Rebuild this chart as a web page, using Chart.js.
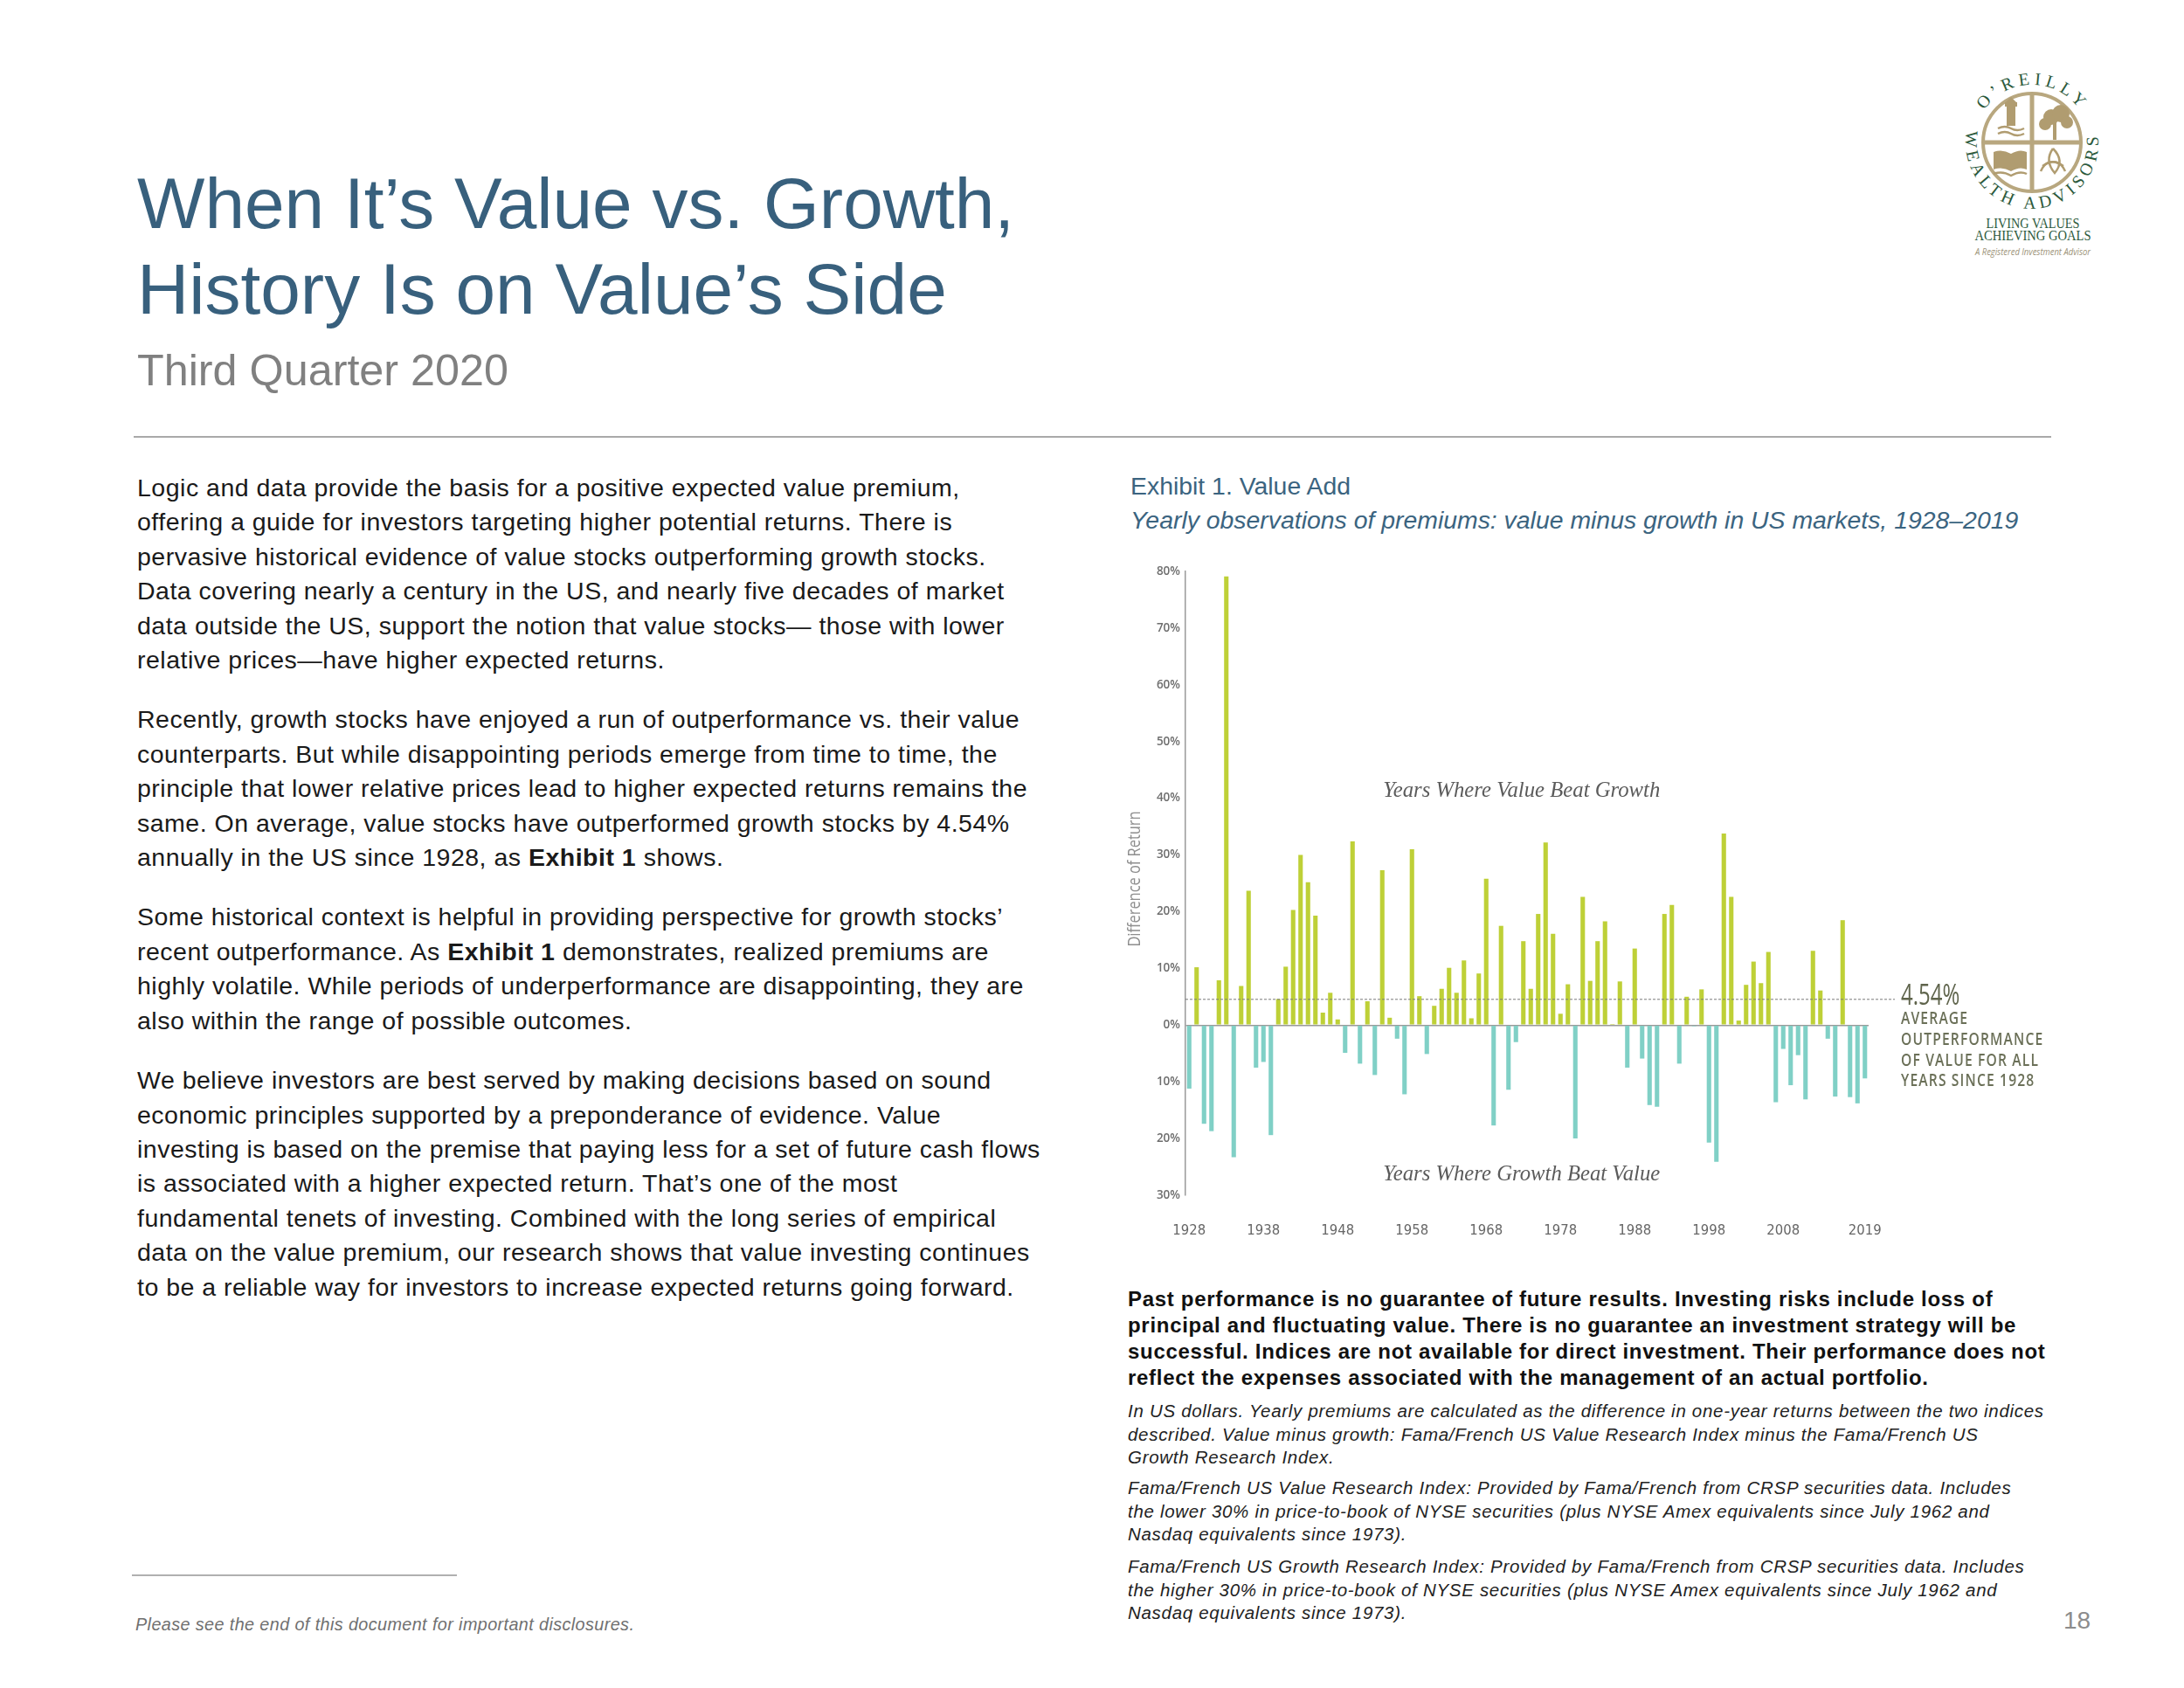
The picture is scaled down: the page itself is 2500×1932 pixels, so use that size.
<!DOCTYPE html>
<html>
<head>
<meta charset="utf-8">
<script src="https://cdn.jsdelivr.net/npm/chart.js@4.4.1/dist/chart.umd.min.js"></script>
<style>
  body { margin: 0; width: 2500px; height: 1932px; background: #fff; position: relative; overflow: hidden;
         font-family: "Liberation Sans", Arial, sans-serif; }
  .abs { position: absolute; white-space: nowrap; }
  .title { left: 157px; top: 183.6px; font-size: 82px; line-height: 98px; color: #38607d; }
  .sub { left: 157px; top: 398.6px; font-size: 50.3px; line-height: 50px; color: #808080; }
  .rule { left: 153px; top: 499px; width: 2195px; height: 2px; background: #a9a9a9; }
  .body { left: 157px; top: 539px; font-size: 28.5px; line-height: 39.4px; letter-spacing: 0.5px; color: #1a1a1a; }
  .body p { margin: 0 0 29px 0; }
  .exh { left: 1294px; top: 539px; font-size: 28.4px; line-height: 34px; color: #3b6480; }
  .exh2 { left: 1294px; top: 578px; font-size: 28.4px; line-height: 34px; color: #3b6480; font-style: italic; }
  .disc { left: 1291px; top: 1472px; font-size: 24px; line-height: 30px; letter-spacing: 0.7px; font-weight: bold; color: #111; }
  .note { left: 1291px; font-size: 20.5px; line-height: 26.7px; letter-spacing: 0.7px; font-style: italic; color: #222; }
  .frule { left: 151px; top: 1802px; width: 372px; height: 2px; background: #b0b0b0; }
  .foot { left: 155px; top: 1847px; font-size: 19.8px; line-height: 24px; letter-spacing: 0.4px; font-style: italic; color: #707070; }
  .pnum { left: 2362px; top: 1840px; font-size: 28px; line-height: 30px; color: #8c8c8c; }
  #chartBox { position: absolute; left: 1270px; top: 620px; }
</style>
</head>
<body>

<div class="abs title">When It’s Value vs. Growth,<br>History Is on Value’s Side</div>
<div class="abs sub">Third Quarter 2020</div>
<div class="abs rule"></div>

<svg class="abs" style="left:2240px;top:70px" width="230" height="260" viewBox="0 0 230 260">
  <defs>
    <path id="arcTop" d="M 31.3 56.1 A 66 66 0 0 1 140.1 55.1"/>
    <path id="arcBottom" d="M 11.15 79.8 A 76 76 0 1 0 161.3 82.4"/>
  </defs>
  <g fill="none" stroke="#b8a77f">
    <circle cx="86" cy="93" r="56" stroke-width="4"/>
    <line x1="86" y1="37" x2="86" y2="149" stroke-width="5"/>
    <line x1="30" y1="93" x2="142" y2="93" stroke-width="5"/>
  </g>
  <g fill="#b09c70" stroke="none">
    <rect x="57" y="52" width="10" height="22"/>
    <rect x="55" y="47" width="14" height="5"/>
    <polygon points="56,47 62,41 68,47"/>
    <circle cx="108" cy="64" r="9"/>
    <circle cx="119" cy="60" r="10"/>
    <circle cx="126" cy="70" r="7"/>
    <circle cx="101" cy="72" r="7"/>
    <rect x="110" y="70" width="4" height="20"/>
    <path d="M 42 104 Q 52 100 62 106 Q 72 100 80 104 L 80 124 Q 72 120 62 126 Q 52 120 42 124 Z"/>
  </g>
  <g fill="none" stroke="#b09c70" stroke-width="2.5">
    <path d="M 47 77 Q 55 73 62 77 Q 69 81 77 77"/>
    <path d="M 47 83 Q 55 79 62 83 Q 69 87 77 83"/>
    <path d="M 42 129 Q 52 125 62 131 Q 72 125 80 129"/>
    <path d="M 110 100 Q 124 114 112 128 Q 100 114 110 100"/>
    <path d="M 96 126 Q 104 108 122 120"/>
    <path d="M 124 126 Q 116 108 98 120"/>
  </g>
  <g fill="#2c5a3c" font-family="Liberation Serif, serif">
    <text font-size="20"><textPath href="#arcTop" textLength="126" lengthAdjust="spacing">O’REILLY</textPath></text>
    <text font-size="20"><textPath href="#arcBottom" textLength="258" lengthAdjust="spacing">WEALTH ADVISORS</textPath></text>
    <text x="87" y="191" font-size="17" text-anchor="middle" textLength="107" lengthAdjust="spacingAndGlyphs">LIVING VALUES</text>
    <text x="87" y="205" font-size="17" text-anchor="middle" textLength="133" lengthAdjust="spacingAndGlyphs">ACHIEVING GOALS</text>
  </g>
  <text x="87" y="222" font-size="10" font-style="italic" fill="#9b9277" text-anchor="middle"
        font-family="Open Sans, sans-serif" textLength="132" lengthAdjust="spacingAndGlyphs">A Registered Investment Advisor</text>
</svg>

<div class="abs body">
<p>Logic and data provide the basis for a positive expected value premium,<br>
offering a guide for investors targeting higher potential returns. There is<br>
pervasive historical evidence of value stocks outperforming growth stocks.<br>
Data covering nearly a century in the US, and nearly five decades of market<br>
data outside the US, support the notion that value stocks— those with lower<br>
relative prices—have higher expected returns.</p>
<p>Recently, growth stocks have enjoyed a run of outperformance vs. their value<br>
counterparts. But while disappointing periods emerge from time to time, the<br>
principle that lower relative prices lead to higher expected returns remains the<br>
same. On average, value stocks have outperformed growth stocks by 4.54%<br>
annually in the US since 1928, as <b>Exhibit 1</b> shows.</p>
<p>Some historical context is helpful in providing perspective for growth stocks’<br>
recent outperformance. As <b>Exhibit 1</b> demonstrates, realized premiums are<br>
highly volatile. While periods of underperformance are disappointing, they are<br>
also within the range of possible outcomes.</p>
<p>We believe investors are best served by making decisions based on sound<br>
economic principles supported by a preponderance of evidence. Value<br>
investing is based on the premise that paying less for a set of future cash flows<br>
is associated with a higher expected return. That’s one of the most<br>
fundamental tenets of investing. Combined with the long series of empirical<br>
data on the value premium, our research shows that value investing continues<br>
to be a reliable way for investors to increase expected returns going forward.</p>
</div>

<div class="abs exh">Exhibit 1. Value Add</div>
<div class="abs exh2">Yearly observations of premiums: value minus growth in US markets, 1928–2019</div>

<div id="chartBox"><canvas id="premiumChart" width="1120" height="830"></canvas></div>

<div class="abs disc">Past performance is no guarantee of future results. Investing risks include loss of<br>
principal and fluctuating value. There is no guarantee an investment strategy will be<br>
successful. Indices are not available for direct investment. Their performance does not<br>
reflect the expenses associated with the management of an actual portfolio.</div>
<div class="abs note" style="top:1602px">In US dollars. Yearly premiums are calculated as the difference in one-year returns between the two indices<br>
described. Value minus growth: Fama/French US Value Research Index minus the Fama/French US<br>
Growth Research Index.</div>
<div class="abs note" style="top:1690px">Fama/French US Value Research Index: Provided by Fama/French from CRSP securities data. Includes<br>
the lower 30% in price-to-book of NYSE securities (plus NYSE Amex equivalents since July 1962 and<br>
Nasdaq equivalents since 1973).</div>
<div class="abs note" style="top:1780px">Fama/French US Growth Research Index: Provided by Fama/French from CRSP securities data. Includes<br>
the higher 30% in price-to-book of NYSE securities (plus NYSE Amex equivalents since July 1962 and<br>
Nasdaq equivalents since 1973).</div>

<div class="abs frule"></div>
<div class="abs foot">Please see the end of this document for important disclosures.</div>
<div class="abs pnum">18</div>

<script>
const years = [
  1928, 1929, 1930, 1931, 1932, 1933, 1934, 1935, 1936, 1937,
  1938, 1939, 1940, 1941, 1942, 1943, 1944, 1945, 1946, 1947,
  1948, 1949, 1950, 1951, 1952, 1953, 1954, 1955, 1956, 1957,
  1958, 1959, 1960, 1961, 1962, 1963, 1964, 1965, 1966, 1967,
  1968, 1969, 1970, 1971, 1972, 1973, 1974, 1975, 1976, 1977,
  1978, 1979, 1980, 1981, 1982, 1983, 1984, 1985, 1986, 1987,
  1988, 1989, 1990, 1991, 1992, 1993, 1994, 1995, 1996, 1997,
  1998, 1999, 2000, 2001, 2002, 2003, 2004, 2005, 2006, 2007,
  2008, 2009, 2010, 2011, 2012, 2013, 2014, 2015, 2016, 2017,
  2018, 2019
];

// value minus growth, % per year
const premiums = [
  -11.2, 10.2, -17.4, -18.7, 7.9, 79.1, -23.3, 6.9, 23.7, -7.5,
  -6.5, -19.4, 4.6, 10.3, 20.3, 30.0, 25.2, 19.3, 2.2, 5.7,
  1.0, -4.9, 32.4, -6.8, 4.2, -8.8, 27.3, 1.3, -2.4, -12.2,
  31.0, 5.1, -5.1, 3.4, 6.4, 10.1, 5.7, 11.4, 1.2, 9.1,
  25.8, -17.7, 17.5, -11.4, -3.0, 14.8, 6.4, 19.6, 32.2, 16.1,
  2.0, 7.2, -20.0, 22.6, 7.8, 14.8, 18.3, 0.2, 7.7, -7.5,
  13.5, -5.9, -14.1, -14.4, 19.6, 21.2, -6.8, 5.0, -0.2, 6.3,
  -20.7, -24.1, 33.8, 22.6, 0.8, 7.1, 11.2, 7.4, 12.9, -13.6,
  -4.2, -10.6, -5.3, -13.1, 13.1, 6.1, -2.4, -12.6, 18.5, -12.7,
  -13.8, -9.4
];

const tickYears = [1928, 1938, 1948, 1958, 1968, 1978, 1988, 1998, 2008, 2019];
const avgPremium = 4.54;
const avgLabel = ['AVERAGE', 'OUTPERFORMANCE', 'OF VALUE FOR ALL', 'YEARS SINCE 1928'];

const greenBar = '#bed037';
const tealBar = '#80d0c6';

const notesPlugin = {
  id: 'notes',
  afterDatasetsDraw(chart) {
    const c = chart.ctx, ca = chart.chartArea;
    const xs = chart.scales.x, ys = chart.scales.y;
    const yAvg = ys.getPixelForValue(avgPremium);

    // dashed average line, runs out past the last bar
    c.save();
    c.setLineDash([3, 2]);
    c.strokeStyle = '#7a7a7a';
    c.lineWidth = 1;
    c.beginPath();
    c.moveTo(ca.left, yAvg);
    c.lineTo(ca.right + 30, yAvg);
    c.stroke();
    c.restore();

    const tx = ca.right + 37;
    c.save();
    c.fillStyle = '#5f644c';
    c.translate(tx, yAvg + 6.5);
    c.scale(0.75, 1);
    c.font = '32px "Open Sans"';
    c.textBaseline = 'alphabetic';
    c.fillText(avgPremium.toFixed(2) + '%', 0, 0);
    c.restore();

    const offs = [22, 46, 70, 93.5];
    avgLabel.forEach((t, i) => {
      c.save();
      c.fillStyle = '#6b7058';
      c.translate(tx, yAvg + offs[i]);
      c.scale(0.78, 1);
      c.font = '600 20px "Open Sans"';
      c.letterSpacing = '1.5px';
      c.textBaseline = 'middle';
      c.fillText(t, 0, 0);
      c.restore();
    });

    // in-chart captions
    c.save();
    c.fillStyle = '#5b5b5b';
    c.font = 'italic 26px "Liberation Serif"';
    c.textBaseline = 'middle';
    const capX = xs.getPixelForValue(26) + 1;
    c.fillText('Years Where Value Beat Growth', capX, ys.getPixelForValue(41.3), 317);
    c.fillText('Years Where Growth Beat Value', capX, ys.getPixelForValue(-26.3), 317);
    c.restore();

    // y axis title
    c.save();
    c.fillStyle = '#8e8e8e';
    c.translate(29, (ca.top + ca.bottom) / 2 - 5);
    c.rotate(-Math.PI / 2);
    c.scale(0.82, 1);
    c.font = '20px "Open Sans"';
    c.textAlign = 'center';
    c.textBaseline = 'middle';
    c.fillText('Difference of Return', 0, 0);
    c.restore();
  }
};

const ctx = document.getElementById('premiumChart').getContext('2d');
new Chart(ctx, {
  type: 'bar',
  data: {
    labels: years.map(String),
    datasets: [{
      data: premiums,
      backgroundColor: premiums.map(v => v >= 0 ? greenBar : tealBar),
      barPercentage: 0.6,
      categoryPercentage: 1
    }]
  },
  options: {
    responsive: false,
    animation: false,
    layout: { padding: { left: 0, top: 34, right: 251, bottom: 0 } },
    plugins: { legend: { display: false }, tooltip: { enabled: false } },
    scales: {
      x: {
        grid: { display: false, drawTicks: false },
        border: { display: false },
        ticks: {
          autoSkip: false, maxRotation: 0, minRotation: 0, padding: 31,
          color: '#666666', font: { family: '"Liberation Sans Narrow", "DejaVu Sans Condensed", sans-serif', size: 16.5, weight: 'normal' },
          callback: (v, i) => tickYears.includes(years[i]) ? String(years[i]) : ''
        },
        afterFit: a => { a.height = 82; }
      },
      y: {
        min: -30, max: 80,
        ticks: {
          stepSize: 10, padding: 6, color: '#6e6e6e',
          font: { family: 'Open Sans', size: 13.5, weight: '600' },
          callback: v => Math.abs(v) + '%'
        },
        grid: {
          drawTicks: false, lineWidth: 1.5,
          color: c => (c.tick && c.tick.value === 0) ? '#9a9a9a' : 'rgba(0,0,0,0)'
        },
        border: { display: true, color: '#9a9a9a', width: 1.5 },
        afterFit: a => { a.width = 87; }
      }
    }
  },
  plugins: [notesPlugin]
});
</script>
</body>
</html>
